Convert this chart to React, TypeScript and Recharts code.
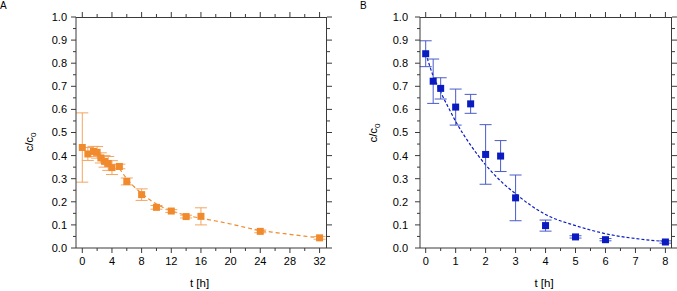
import { ComposedChart, Scatter, Line, XAxis, YAxis, ErrorBar, Label } from "recharts"

// panel A: orange, 0–32 h
const hoursA = [0, 0.75, 1.5, 2, 2.5, 3, 3.5, 4, 5, 6, 8, 10, 12, 14, 16, 24, 32]
const ratioA = [0.435, 0.407, 0.418, 0.414, 0.39, 0.375, 0.366, 0.348, 0.353, 0.288, 0.231, 0.176, 0.16, 0.136, 0.137, 0.072, 0.044]
const errA = [0.15, 0.028, 0.022, 0.025, 0.022, 0.025, 0.03, 0.03, 0.01, 0.015, 0.025, 0.008, 0.006, 0.006, 0.037, 0.006, 0.006]
const fitHoursA = [5, 6, 7, 8, 9, 10, 12, 14, 16, 18, 20, 22, 24, 26, 28, 30, 32]
const fitRatioA = [0.345, 0.3, 0.265, 0.237, 0.211, 0.19, 0.161, 0.142, 0.129, 0.117, 0.104, 0.089, 0.076, 0.067, 0.059, 0.051, 0.045]

// panel B: blue, 0–8 h
const hoursB = [0, 0.25, 0.5, 1, 1.5, 2, 2.5, 3, 4, 5, 6, 8]
const ratioB = [0.841, 0.722, 0.691, 0.61, 0.624, 0.405, 0.398, 0.217, 0.097, 0.048, 0.036, 0.026]
const errB = [0.056, 0.096, 0.046, 0.078, 0.041, 0.129, 0.067, 0.099, 0.024, 0.005, 0.005, 0.005]
const fitHoursB = [0.05, 0.25, 0.5, 0.75, 1, 1.5, 2, 2.5, 3, 3.5, 4, 5, 6, 7, 8]
const fitRatioB = [0.822, 0.745, 0.675, 0.61, 0.548, 0.445, 0.36, 0.29, 0.235, 0.185, 0.145, 0.097, 0.062, 0.041, 0.028]

// ticks
const xTicksA = [0, 2, 4, 6, 8, 10, 12, 14, 16, 18, 20, 22, 24, 26, 28, 30, 32]
const xMajorA = [0, 4, 8, 12, 16, 20, 24, 28, 32]
const xTicksB = [0, 0.5, 1, 1.5, 2, 2.5, 3, 3.5, 4, 4.5, 5, 5.5, 6, 6.5, 7, 7.5, 8]
const xMajorB = [0, 1, 2, 3, 4, 5, 6, 7, 8]
const yTicks = [0, 0.05, 0.1, 0.15, 0.2, 0.25, 0.3, 0.35, 0.4, 0.45, 0.5, 0.55, 0.6, 0.65, 0.7, 0.75, 0.8, 0.85, 0.9, 0.95, 1.0]
const yMajor = [0, 0.1, 0.2, 0.3, 0.4, 0.5, 0.6, 0.7, 0.8, 0.9, 1.0]

const FRAME = "#3a3a3a"
const MAJOR = 5
const MINOR = 3

const isMajor = (v: number, list: number[]) => list.some((m) => Math.abs(m - v) < 1e-6)

function Panel({ rows, fit, xDomain, xTicks, xMajor, color, barColor, dash, plotLeft, plotRight, yGap, yTitleX, yTitleY }: any) {
  const W = 340
  const H = 291
  const TOP = 17
  const XH = 43
  const plotH = H - TOP - XH
  const plotW = plotRight - plotLeft

  // bottom ticks also draw the mirrored ticks on the top edge
  const bottomTick = (p: any) => {
    const v = p.payload.value
    const maj = isMajor(v, xMajor)
    const len = maj ? MAJOR : MINOR
    const x = Number(p.x)
    const y = Number(p.y)
    return (
      <g>
        <path d={`M${x},${y}V${y + len}M${x},${y - plotH}V${y - plotH - len}`} stroke={FRAME} strokeWidth={1} fill="none" />
        {maj && (
          <text x={x} y={y + 16.5} textAnchor="middle" fontSize={11} fill="#000">{v}</text>
        )}
      </g>
    )
  }
  // left ticks also draw the mirrored ticks on the right edge
  const leftTick = (p: any) => {
    const v = p.payload.value
    const maj = isMajor(v, yMajor)
    const len = maj ? MAJOR : MINOR
    const x = Number(p.x)
    const y = Number(p.y)
    return (
      <g>
        <path d={`M${x - len},${y}H${x}M${x + plotW},${y}H${x + plotW + len}`} stroke={FRAME} strokeWidth={1} fill="none" />
        {maj && (
          <text x={x - MAJOR - yGap} y={y} dy="0.36em" textAnchor="end" fontSize={11} fill="#000">{v.toFixed(1)}</text>
        )}
      </g>
    )
  }

  return (
    <ComposedChart width={W} height={H} margin={{ top: TOP, right: W - plotRight, bottom: 0, left: 0 }}>
      <XAxis xAxisId="b" type="number" dataKey="t" domain={xDomain} allowDataOverflow ticks={xTicks} interval={0}
        tickSize={0} tickMargin={0} tickLine={false} tick={bottomTick} height={XH} axisLine={{ stroke: FRAME }}>
        <Label content={(lp: any) => {
          const vb = lp.viewBox
          return (
            <g>
              {/* top and right edges of the frame */}
              <path d={`M${vb.x},${vb.y - plotH + 0.5}H${vb.x + vb.width}M${vb.x + vb.width - 0.5},${vb.y - plotH}V${vb.y}`}
                stroke={FRAME} strokeWidth={1} fill="none" />
              <text x={vb.x + vb.width / 2 - 2} y={287} textAnchor="middle" fontSize={11.5} fill="#000">t [h]</text>
            </g>
          )
        }} />
      </XAxis>
      <YAxis yAxisId="l" type="number" dataKey="v" domain={[0, 1]} allowDataOverflow ticks={yTicks} interval={0}
        tickSize={0} tickMargin={0} tickLine={false} tick={leftTick} width={plotLeft} axisLine={{ stroke: FRAME }}>
        <Label content={() => (
          <text x={yTitleX} y={yTitleY} transform={`rotate(-90, ${yTitleX}, ${yTitleY})`} textAnchor="middle" fontSize={11.5} fill="#000">
            c/c<tspan fontSize={8} dy={3}>0</tspan>
          </text>
        )} />
      </YAxis>
      <Line xAxisId="b" yAxisId="l" data={fit} dataKey="v" type="monotone" stroke={color} strokeWidth={1.2}
        strokeDasharray={dash} dot={false} activeDot={false} isAnimationActive={false} />
      <Scatter xAxisId="b" yAxisId="l" data={rows} dataKey="v" isAnimationActive={false}
        shape={(p: any) => <rect x={p.cx - 3.5} y={p.cy - 3.5} width={7} height={7} fill={color} />}>
        <ErrorBar dataKey="e" direction="y" width={6} stroke={barColor} strokeWidth={1} />
      </Scatter>
    </ComposedChart>
  )
}

export default function App() {
  const rowsA = hoursA.map((t, i) => ({ t, v: ratioA[i], e: errA[i] }))
  const fitA = fitHoursA.map((t, i) => ({ t, v: fitRatioA[i] }))
  const rowsB = hoursB.map((t, i) => ({ t, v: ratioB[i], e: errB[i] }))
  const fitB = fitHoursB.map((t, i) => ({ t, v: fitRatioB[i] }))

  return (
    <div style={{ position: "absolute", left: 0, top: 0, width: 677, height: 291, background: "#fff", fontFamily: "'Liberation Sans', Arial, sans-serif" }}>
      <div style={{ position: "absolute", left: 0, top: 0 }}>
        <Panel rows={rowsA} fit={fitA} xDomain={[-0.85, 33]} xTicks={xTicksA} xMajor={xMajorA}
          color="#f08a2c" barColor="#f4a562" dash="4 3" plotLeft={76} plotRight={327}
          yGap={4} yTitleX={33} yTitleY={142} />
      </div>
      <div style={{ position: "absolute", left: 337, top: 0 }}>
        <Panel rows={rowsB} fit={fitB} xDomain={[-0.19, 8.22]} xTicks={xTicksB} xMajor={xMajorB}
          color="#0a1bc2" barColor="#4a5cc8" dash="3 2" plotLeft={83} plotRight={335}
          yGap={7} yTitleX={40} yTitleY={133} />
      </div>
      <div style={{ position: "absolute", left: 0, top: 0, fontSize: 10, lineHeight: "11px", color: "#000" }}>A</div>
      <div style={{ position: "absolute", left: 360, top: 0, fontSize: 10, lineHeight: "11px", color: "#000" }}>B</div>
    </div>
  )
}
